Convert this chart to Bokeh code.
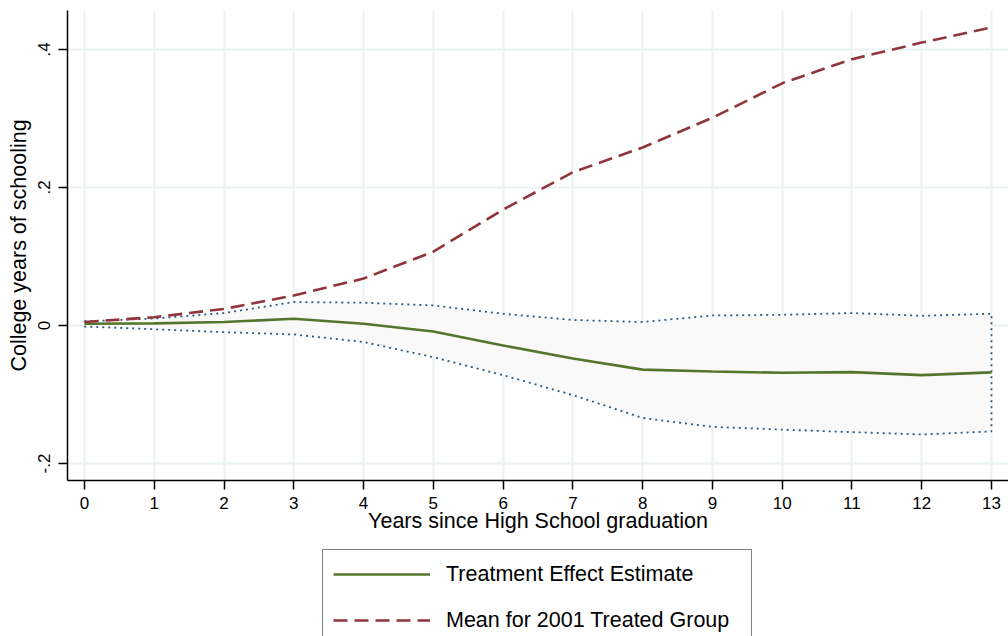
from bokeh.plotting import figure
from bokeh.models import Range1d, FixedTicker, Legend, LegendItem
from bokeh.layouts import column
from bokeh.embed import file_html
from bokeh.resources import INLINE

# ---- data ----
years = list(range(14))
effect = [0.0025, 0.003, 0.005, 0.0097, 0.0025, -0.0087, -0.029, -0.048,
          -0.064, -0.0667, -0.0686, -0.0676, -0.072, -0.068]
mean_treated = [0.005, 0.012, 0.024, 0.0435, 0.068, 0.107, 0.168, 0.222,
                0.258, 0.301, 0.351, 0.386, 0.410, 0.432]
ci_upper = [0.006, 0.010, 0.018, 0.034, 0.033, 0.029, 0.017, 0.008,
            0.005, 0.0145, 0.0155, 0.018, 0.014, 0.017]
ci_lower = [-0.0015, -0.0055, -0.0097, -0.013, -0.024, -0.046, -0.072, -0.101,
            -0.134, -0.147, -0.151, -0.1546, -0.158, -0.1536]
y_ticks = [-0.2, 0.0, 0.2, 0.4]
y_tick_labels = ["-.2", "0", ".2", ".4"]
x_ticks = years
x_title = "Years since High School graduation"
y_title = "College years of schooling"
series_labels = ["Treatment Effect Estimate", "Mean for 2001 Treated Group"]

FONT = "Liberation Sans"
NAVY = "#1a476f"
MAROON = "#90353b"
GREEN = "#55752f"
GRID = "#eaf2f3"

p = figure(width=1008, height=540, output_backend="svg", toolbar_location=None,
           x_range=Range1d(-0.2437, 13.244), y_range=Range1d(-0.2247, 0.4565),
           min_border_left=67, min_border_right=0, min_border_top=10,
           min_border_bottom=60)
p.outline_line_color = None
p.background_fill_color = "white"
p.border_fill_color = "white"

# confidence band
band_x = years + years[::-1]
band_y = ci_upper + ci_lower[::-1]
p.patch(band_x, band_y, fill_color="#f9f9f9", line_color=NAVY, line_alpha=0.9,
        line_dash="2 4", line_width=1.8)

r_eff = p.line(years, effect, line_color=GREEN, line_width=2.6)
r_mean = p.line(years, mean_treated, line_color=MAROON, line_width=2.6,
                line_dash="14 7")

# axes
for ax in (p.xaxis[0], p.yaxis[0]):
    ax.axis_line_color = "black"
    ax.axis_line_width = 1.5
    ax.major_tick_line_color = "black"
    ax.major_tick_line_width = 1.5
    ax.major_tick_out = 9
    ax.major_tick_in = 0
    ax.minor_tick_line_color = None
    ax.major_label_text_font = FONT
    ax.major_label_text_font_size = "17px"
    ax.major_label_text_color = "black"
    ax.axis_label_text_font = FONT
    ax.axis_label_text_font_size = "21.5px"
    ax.axis_label_text_font_style = "normal"
    ax.axis_label_text_color = "black"

p.xaxis.ticker = FixedTicker(ticks=x_ticks)
p.xaxis.axis_label = x_title
p.xaxis.major_label_standoff = 7
p.xaxis.axis_label_standoff = -3

p.yaxis.ticker = FixedTicker(ticks=y_ticks)
p.yaxis.major_label_overrides = dict(zip(y_ticks, y_tick_labels))
p.yaxis.major_label_orientation = "vertical"
p.yaxis.axis_label = y_title
p.yaxis.major_label_standoff = 8
p.yaxis.axis_label_standoff = 5

p.xgrid.ticker = FixedTicker(ticks=x_ticks)
p.ygrid.ticker = FixedTicker(ticks=y_ticks)
p.grid.grid_line_color = GRID
p.grid.grid_line_width = 2

# legend panel below the chart
q = figure(width=1008, height=96, output_backend="svg", toolbar_location=None,
           x_range=Range1d(0, 1), y_range=Range1d(0, 1),
           x_axis_location=None, y_axis_location=None,
           min_border_left=0, min_border_right=0, min_border_top=0,
           min_border_bottom=0)
q.outline_line_color = None
q.grid.visible = False
q.border_fill_color = "white"
q.background_fill_color = "white"
l_eff = q.line(years, effect, line_color=GREEN, line_width=2.6, visible=False)
l_mean = q.line(years, mean_treated, line_color=MAROON, line_width=2.6,
                line_dash="14 7", visible=False)

legend = Legend(items=[LegendItem(label=series_labels[0], renderers=[l_eff]),
                       LegendItem(label=series_labels[1], renderers=[l_mean])],
                location=(255, -9), orientation="vertical")
legend.label_text_font = FONT
legend.label_text_font_size = "21.5px"
legend.label_text_color = "black"
legend.glyph_width = 97
legend.glyph_height = 28
legend.label_height = 28
legend.label_width = 295
legend.label_standoff = 16
legend.spacing = 18
legend.padding = 10
legend.margin = 0
legend.border_line_color = "black"
legend.border_line_width = 1.2
legend.background_fill_color = "white"
legend.background_fill_alpha = 1.0
q.add_layout(legend, "center")

layout = column(p, q, spacing=0)
open("out.html", "w").write(file_html(layout, INLINE))
